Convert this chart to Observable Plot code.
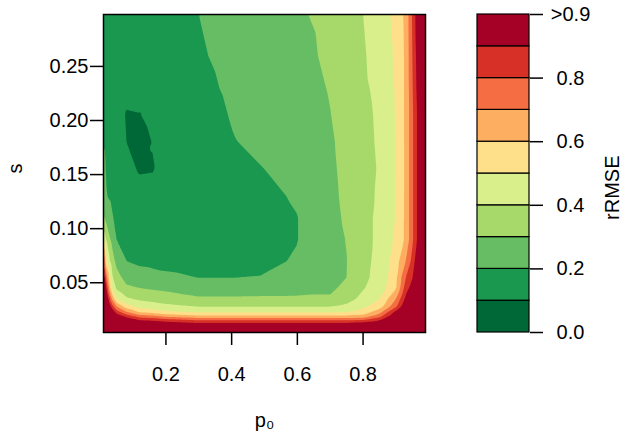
<!DOCTYPE html>
<html><head><meta charset="utf-8">
<script src="https://cdn.jsdelivr.net/npm/d3@7"></script>
<script src="https://cdn.jsdelivr.net/npm/@observablehq/plot@0.6"></script>
<style>
body{margin:0;background:#fff;}
#wrap{position:relative;width:633px;height:436px;overflow:hidden;}
#main{position:absolute;left:0;top:0;}
#legend{position:absolute;left:440px;top:0;}
</style></head><body><div id="wrap"><div id="main"></div><div id="legend"></div></div>
<script>
// p0 sample positions (columns) and s sample positions (rows)
const p0Values = [0.01, 0.02, 0.035, 0.05, 0.08, 0.12, 0.16, 0.2, 0.3, 0.4, 0.5, 0.6, 0.7, 0.75, 0.8, 0.85, 0.9, 0.93, 0.95, 0.97, 0.99];
const sValues = [0.004, 0.01, 0.013, 0.016, 0.019, 0.023, 0.028, 0.035, 0.045, 0.055, 0.07, 0.09, 0.11, 0.13, 0.155, 0.18, 0.205, 0.23, 0.26, 0.298];
// rRMSE, one row per s value
const rmse = [
  [2.0, 1.8, 1.6, 1.5, 1.4, 1.35, 1.3, 1.3, 1.3, 1.3, 1.3, 1.3, 1.3, 1.3, 1.3, 1.35, 1.5, 1.6, 1.7, 1.8, 2.0],
  [1.8, 1.6, 1.4, 1.3, 1.2, 1.1, 1.08, 1.05, 1.0, 1.0, 1.0, 1.0, 1.0, 1.0, 1.05, 1.1, 1.3, 1.4, 1.5, 1.6, 1.8],
  [1.7, 1.5, 1.3, 1.2, 1.07, 0.98, 0.96, 0.94, 0.89, 0.89, 0.89, 0.89, 0.89, 0.89, 0.92, 0.98, 1.2, 1.3, 1.4, 1.5, 1.7],
  [1.6, 1.4, 1.2, 1.1, 0.97, 0.88, 0.86, 0.82, 0.77, 0.77, 0.77, 0.77, 0.77, 0.77, 0.78, 0.87, 1.1, 1.2, 1.3, 1.4, 1.6],
  [1.5, 1.3, 1.1, 0.97, 0.867, 0.75, 0.725, 0.675, 0.625, 0.625, 0.625, 0.625, 0.625, 0.625, 0.63, 0.76, 1.0, 1.15, 1.25, 1.35, 1.5],
  [1.4, 1.2, 1.0, 0.85, 0.7, 0.585, 0.557, 0.517, 0.486, 0.486, 0.486, 0.486, 0.486, 0.49, 0.54, 0.66, 0.93, 1.1, 1.2, 1.3, 1.5],
  [1.3, 1.1, 0.86, 0.7, 0.55, 0.47, 0.45, 0.425, 0.395, 0.395, 0.395, 0.395, 0.395, 0.415, 0.48, 0.55, 0.78, 1.0, 1.1, 1.25, 1.45],
  [1.2, 1.0, 0.7, 0.5, 0.417, 0.383, 0.367, 0.355, 0.315, 0.315, 0.317, 0.318, 0.318, 0.375, 0.42, 0.5, 0.7, 0.93, 1.05, 1.2, 1.4],
  [1.1, 0.8625, 0.5, 0.385, 0.318, 0.3, 0.288, 0.277, 0.25, 0.25, 0.255, 0.26, 0.275, 0.335, 0.395, 0.44, 0.59, 0.85, 0.95, 1.15, 1.4],
  [1.0, 0.717, 0.423, 0.335, 0.265, 0.243, 0.23, 0.218, 0.198, 0.198, 0.205, 0.225, 0.27, 0.3, 0.385, 0.4225, 0.5775, 0.8, 0.89, 1.1, 1.35],
  [0.833, 0.488, 0.352, 0.272, 0.2, 0.18, 0.175, 0.17, 0.16, 0.16, 0.185, 0.207, 0.27, 0.298, 0.38, 0.42, 0.553, 0.7, 0.833, 1.02, 1.3],
  [0.514, 0.367, 0.278, 0.198, 0.165, 0.145, 0.145, 0.145, 0.14, 0.145, 0.17, 0.198, 0.27, 0.303, 0.378, 0.415, 0.52, 0.62, 0.78, 0.95, 1.3],
  [0.317, 0.267, 0.216, 0.17, 0.145, 0.13, 0.13, 0.13, 0.13, 0.14, 0.17, 0.198, 0.275, 0.312, 0.378, 0.415, 0.505, 0.62, 0.78, 0.95, 1.3],
  [0.274, 0.2, 0.18, 0.155, 0.13, 0.12, 0.12, 0.125, 0.13, 0.145, 0.18, 0.21, 0.28, 0.318, 0.377, 0.41, 0.503, 0.62, 0.78, 0.95, 1.3],
  [0.237, 0.18, 0.16, 0.145, 0.115, 0.095, 0.097, 0.12, 0.14, 0.16, 0.2, 0.23, 0.285, 0.322, 0.375, 0.406, 0.5, 0.62, 0.78, 0.95, 1.3],
  [0.2, 0.17, 0.15, 0.135, 0.1, 0.08, 0.102, 0.12, 0.15, 0.195, 0.22, 0.245, 0.29, 0.325, 0.378, 0.41, 0.5, 0.62, 0.78, 0.95, 1.3],
  [0.19, 0.165, 0.145, 0.13, 0.095, 0.098, 0.115, 0.125, 0.16, 0.205, 0.235, 0.255, 0.298, 0.335, 0.38, 0.413, 0.505, 0.62, 0.78, 0.95, 1.3],
  [0.185, 0.16, 0.145, 0.13, 0.12, 0.115, 0.12, 0.13, 0.175, 0.215, 0.245, 0.265, 0.305, 0.34, 0.385, 0.4225, 0.509, 0.62, 0.79, 0.97, 1.3],
  [0.18, 0.16, 0.145, 0.13, 0.125, 0.12, 0.125, 0.135, 0.19, 0.225, 0.255, 0.275, 0.315, 0.345, 0.39, 0.44, 0.515, 0.62, 0.8, 0.98, 1.3],
  [0.18, 0.16, 0.145, 0.13, 0.125, 0.125, 0.13, 0.14, 0.2, 0.235, 0.265, 0.29, 0.32, 0.35, 0.4, 0.44, 0.53, 0.625, 0.81, 1.01, 1.3]
];
const thresholds = [0, 0.1, 0.2, 0.3, 0.4, 0.5, 0.6, 0.7, 0.8, 0.9];
const binColors = ["#006837", "#1a9850", "#66bd63", "#a6d96a", "#d9ef8b", "#fee08b", "#fdae61", "#f46d43", "#d73027", "#a50026"];
const xTicks = [0.2, 0.4, 0.6, 0.8];
const yTicks = [0.05, 0.10, 0.15, 0.20, 0.25];
const legendTicks = [0, 0.2, 0.4, 0.6, 0.8, 1.0];
const legendTickLabels = ["0.0", "0.2", "0.4", "0.6", "0.8", ">0.9"];
const xLabel = "p₀";
const yLabel = "s";
const legendLabel = "rRMSE";

const font = '"Liberation Sans", Arial, Helvetica, sans-serif';

const grid = [];
sValues.forEach((s, i) => p0Values.forEach((p, j) => grid.push({p0: p, s, v: rmse[i][j]})));

const main = Plot.plot({
  width: 440, height: 436,
  marginLeft: 103, marginRight: 15, marginTop: 14, marginBottom: 104,
  style: {fontFamily: font, fontSize: "20px", color: "#000", background: "white", overflow: "visible"},
  x: {domain: [0.01, 0.99]},
  y: {domain: [0.004, 0.298]},
  color: {type: "threshold", domain: thresholds.slice(1), range: binColors},
  marks: [
    Plot.contour(grid, {x: "p0", y: "s", fill: "v", thresholds, interpolate: "barycentric", stroke: "none"}),
    Plot.frame({stroke: "#000", strokeWidth: 1.5}),
    Plot.axisX({ticks: xTicks, tickSize: 13, tickPadding: 21, strokeWidth: 1.5, tickFormat: d3.format(".1f"), label: null, fontSize: 20}),
    Plot.axisY({ticks: yTicks, tickSize: 13, tickPadding: 2, strokeWidth: 1.5, tickFormat: d3.format(".2f"), label: null, fontSize: 20}),
    Plot.text([xLabel], {text: d => d, frameAnchor: "bottom", lineAnchor: "middle", dy: 88, fontSize: 20}),
    Plot.text([yLabel], {text: d => d, frameAnchor: "left", lineAnchor: "middle", rotate: -90, dx: -88, fontSize: 20})
  ]
});
document.getElementById("main").appendChild(main);

const bins = binColors.map((c, i) => ({lo: thresholds[i], hi: i + 1 < thresholds.length ? thresholds[i + 1] : 1.0, color: c}));

const legend = Plot.plot({
  width: 193, height: 436,
  marginLeft: 37, marginRight: 104, marginTop: 14, marginBottom: 104,
  style: {fontFamily: font, fontSize: "20px", color: "#000", background: "white", overflow: "visible"},
  x: {domain: [0, 1], axis: null},
  y: {domain: [0, 1], axis: null},
  marks: [
    Plot.rect(bins, {x1: 0, x2: 1, y1: "lo", y2: "hi", fill: "color", stroke: "#000", strokeWidth: 1.2}),
    Plot.axisY({anchor: "right", ticks: legendTicks, tickSize: 13, tickPadding: 28, strokeWidth: 1.5, textAnchor: "middle",
      tickFormat: d => legendTickLabels[legendTicks.indexOf(d)], label: null, fontSize: 20}),
    Plot.text([legendLabel], {text: d => d, frameAnchor: "right", lineAnchor: "middle", rotate: -90, dx: 83, dy: -18, fontSize: 20})
  ]
});
document.getElementById("legend").appendChild(legend);
</script></body></html>
